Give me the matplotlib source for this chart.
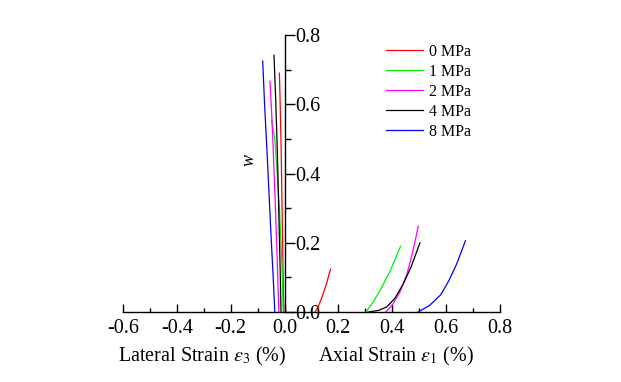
import matplotlib.pyplot as plt
from matplotlib.ticker import MultipleLocator

plt.rcParams['font.family'] = ['Liberation Serif', 'DejaVu Serif']
plt.rcParams['mathtext.fontset'] = 'stix'

labels = ['0 MPa', '1 MPa', '2 MPa', '4 MPa', '8 MPa']
colors = ['#ff0000', '#00ee00', '#ff00ff', '#000000', '#0000ff']

# lateral strain (negative side)
lat_x = [
    [-0.003, -0.004, -0.006, -0.009, -0.012, -0.016, -0.019],
    [-0.005, -0.008, -0.013, -0.019, -0.027, -0.036, -0.048],
    [-0.021, -0.025, -0.030, -0.036, -0.042, -0.048, -0.054],
    [-0.013, -0.016, -0.020, -0.024, -0.028, -0.033, -0.039],
    [-0.036, -0.042, -0.050, -0.058, -0.066, -0.074, -0.081],
]
lat_w = [
    [0.0, 0.05, 0.15, 0.30, 0.45, 0.60, 0.69],
    [0.0, 0.10, 0.20, 0.30, 0.40, 0.50, 0.555],
    [0.0, 0.10, 0.22, 0.35, 0.47, 0.58, 0.667],
    [0.0, 0.12, 0.25, 0.38, 0.50, 0.62, 0.742],
    [0.0, 0.10, 0.22, 0.35, 0.48, 0.60, 0.725],
]

# axial strain (positive side)
ax_x = [
    [0.113, 0.125, 0.140, 0.155, 0.171],
    [0.302, 0.330, 0.360, 0.390, 0.415, 0.431],
    [0.376, 0.400, 0.430, 0.455, 0.475, 0.497],
    [0.310, 0.350, 0.380, 0.410, 0.440, 0.470, 0.503],
    [0.496, 0.540, 0.580, 0.610, 0.640, 0.672],
]
ax_w = [
    [0.0, 0.015, 0.045, 0.080, 0.124],
    [0.0, 0.030, 0.070, 0.115, 0.160, 0.190],
    [0.0, 0.020, 0.060, 0.110, 0.170, 0.248],
    [0.0, 0.005, 0.015, 0.040, 0.080, 0.130, 0.200],
    [0.0, 0.020, 0.050, 0.090, 0.140, 0.206],
]

fig = plt.figure(figsize=(6.21, 3.82), dpi=100)
ax = fig.add_axes([0.198, 0.183, 0.607, 0.725])

handles = []
for i in range(len(labels)):
    ln, = ax.plot(lat_x[i], lat_w[i], color=colors[i], lw=0.9)
    ax.plot(ax_x[i], ax_w[i], color=colors[i], lw=0.9)
    handles.append(ln)

ax.set_xlim(-0.6, 0.8)
ax.set_ylim(0, 0.8)

ax.spines['top'].set_visible(False)
ax.spines['left'].set_visible(False)
ax.spines['right'].set_position(('data', 0))
ax.yaxis.set_ticks_position('right')
ax.xaxis.set_ticks_position('bottom')

ax.xaxis.set_major_locator(MultipleLocator(0.2))
ax.xaxis.set_minor_locator(MultipleLocator(0.1))
ax.yaxis.set_major_locator(MultipleLocator(0.2))
ax.yaxis.set_minor_locator(MultipleLocator(0.1))
ax.tick_params(axis='x', which='major', direction='in', length=6, width=1, labelsize=14.5, pad=5)
ax.tick_params(axis='x', which='minor', direction='in', length=3, width=1)
ax.tick_params(axis='y', which='major', direction='out', length=7, width=1, labelsize=14.5, pad=1)
ax.tick_params(axis='y', which='minor', direction='out', length=4, width=1)
ax.xaxis.set_major_formatter(plt.FuncFormatter(lambda v, p: f'{v:.1f}'))
ax.yaxis.set_major_formatter(plt.FuncFormatter(lambda v, p: f'{v:.1f}'))
for s in ax.spines.values():
    s.set_linewidth(1)

ax.text(-0.13, 0.44, 'w', rotation=90, style='italic', fontsize=13,
        ha='center', va='center')
fig.text(202 / 621, 1 - 356 / 382, r'Lateral Strain $\varepsilon_3$ (%)',
         fontsize=14.5, ha='center', va='center')
fig.text(396 / 621, 1 - 356 / 382, r'Axial Strain $\varepsilon_1$ (%)',
         fontsize=14.5, ha='center', va='center')

ax.legend(handles, labels, loc='upper left', bbox_to_anchor=(386 / 621, 1 - 44 / 382),
          bbox_transform=fig.transFigure, frameon=False, fontsize=11.5,
          handlelength=2.3, handletextpad=0.4, labelspacing=0.25,
          borderaxespad=0, borderpad=0)

fig.savefig('out.png', dpi=100)
